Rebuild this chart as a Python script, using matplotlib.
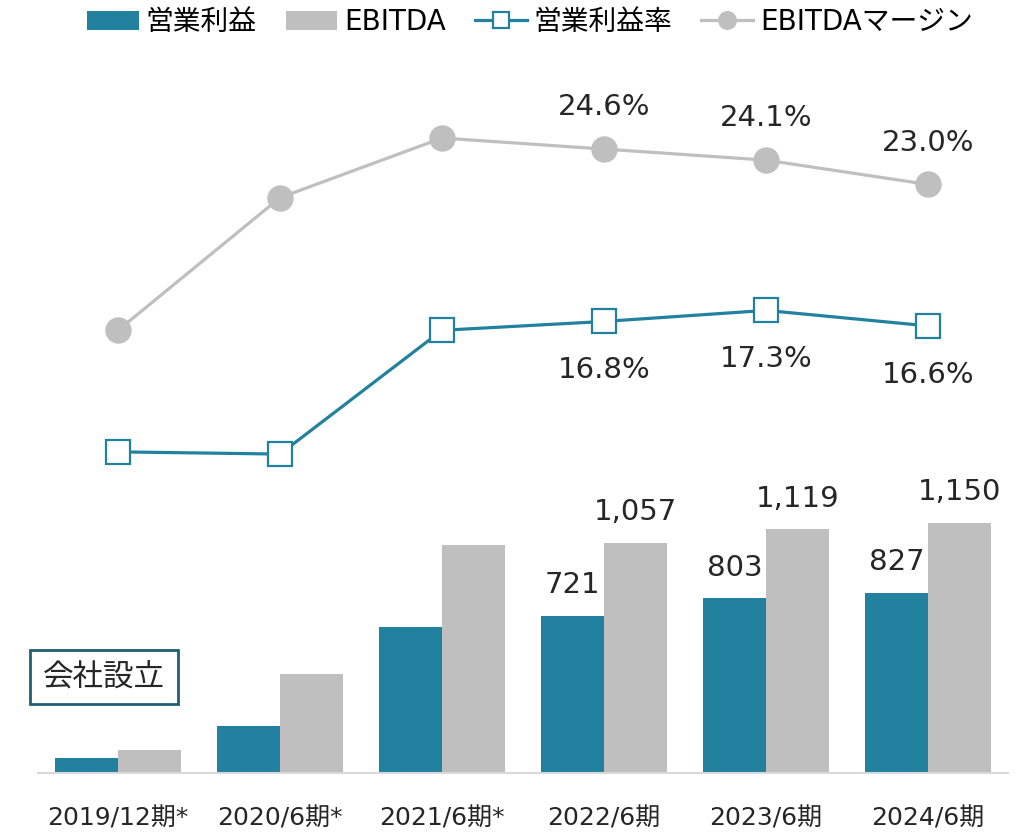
import matplotlib.pyplot as plt
import numpy as np

plt.rcParams['font.family'] = ['DejaVu Sans', 'Noto Sans CJK JP']

periods = ["2019/12期*", "2020/6期*", "2021/6期*", "2022/6期", "2023/6期", "2024/6期"]
op_profit = [69, 216, 670, 721, 803, 827]
ebitda = [105, 455, 1047, 1057, 1119, 1150]
op_margin = [10.9, 10.8, 16.4, 16.8, 17.3, 16.6]
ebitda_margin = [16.4, 22.4, 25.1, 24.6, 24.1, 23.0]
labeled = [3, 4, 5]

teal = "#2381A0"
gray = "#BFBFBF"
txt = "#262626"

fig = plt.figure(figsize=(10.32, 8.32), dpi=100)
# axes spans from baseline (y=773px) to top (y=60px)
ax = fig.add_axes([38 / 1032, (832 - 773) / 832, 970 / 1032, 713 / 832])
x = np.arange(len(periods))
w = 0.39

b1 = ax.bar(x - w / 2, op_profit, w, color=teal, label="営業利益")
b2 = ax.bar(x + w / 2, ebitda, w, color=gray, label="EBITDA")
ax.set_xlim(-0.494, 5.494)
ax.set_ylim(0, 3275)

for i in labeled:
    ax.annotate(f"{op_profit[i]:,}", (x[i] - w / 2, op_profit[i]), xytext=(0, 12),
                textcoords="offset points", ha="center", va="bottom", fontsize=21, color=txt)
    ax.annotate(f"{ebitda[i]:,}", (x[i] + w / 2, ebitda[i]), xytext=(0, 12),
                textcoords="offset points", ha="center", va="bottom", fontsize=21, color=txt)

for s in ["top", "right", "left"]:
    ax.spines[s].set_visible(False)
ax.spines["bottom"].set_color("#D9D9D9")
ax.spines["bottom"].set_linewidth(1.5)
ax.set_yticks([])
ax.set_xticks(x)
ax.set_xticklabels(periods, fontsize=18, color=txt)
ax.tick_params(axis="x", length=0, pad=24)

ax2 = ax.twinx()
ax2.set_ylim(-3.63, 28.63)
l1, = ax2.plot(x, op_margin, color=teal, lw=2.3, marker="s", markersize=17,
               markerfacecolor="white", markeredgecolor=teal, markeredgewidth=1.6, label="営業利益率")
l2, = ax2.plot(x, ebitda_margin, color=gray, lw=2.3, marker="o", markersize=18,
               markerfacecolor=gray, markeredgecolor=gray, label="EBITDAマージン")
for i in labeled:
    ax2.annotate(f"{ebitda_margin[i]:.1f}%", (x[i], ebitda_margin[i]), xytext=(0, 20),
                 textcoords="offset points", ha="center", va="bottom", fontsize=21, color=txt)
    ax2.annotate(f"{op_margin[i]:.1f}%", (x[i], op_margin[i]), xytext=(0, -25),
                 textcoords="offset points", ha="center", va="top", fontsize=21, color=txt)
ax2.axis("off")

ax.text((104 - 38) / 970, (773 - 677) / 713, "会社設立", transform=ax.transAxes,
        fontsize=22, color=txt, ha="center", va="center",
        bbox=dict(boxstyle="square,pad=0.42", fc="white", ec="#1F5F73", lw=2))

fig.legend([b1, b2, l1, l2], ["営業利益", "EBITDA", "営業利益率", "EBITDAマージン"],
           loc="center", bbox_to_anchor=(530 / 1032, 1 - 22 / 832), ncol=4, frameon=False,
           fontsize=20, handlelength=1.85, handletextpad=0.25, columnspacing=1.05, markerscale=0.7)

fig.savefig("out.png", dpi=100)
